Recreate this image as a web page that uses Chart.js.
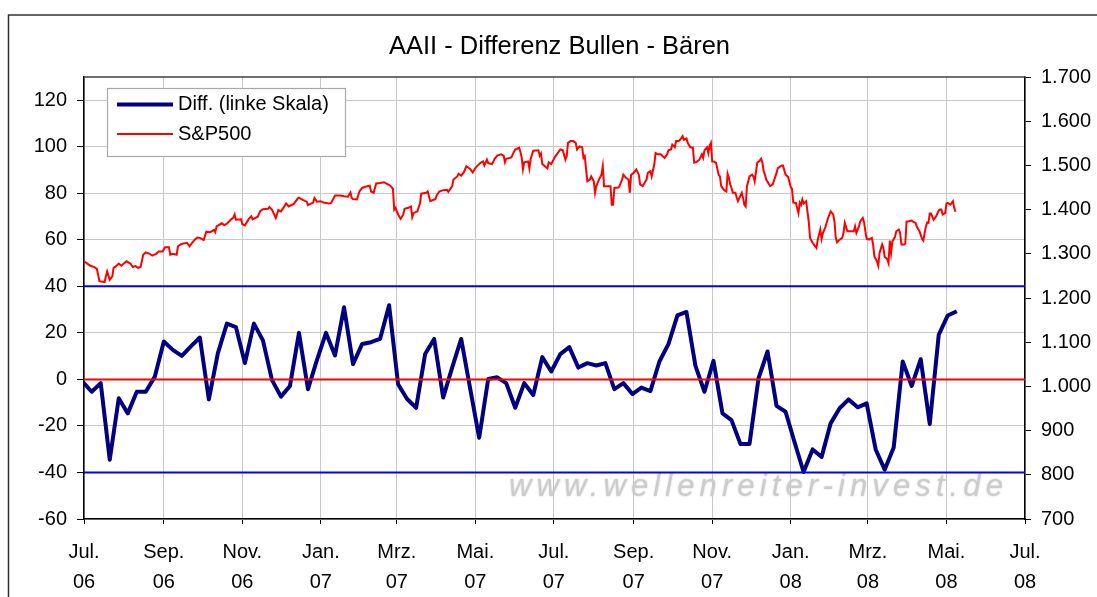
<!DOCTYPE html>
<html>
<head>
<meta charset="utf-8">
<title>AAII - Differenz Bullen - Bären</title>
<script src="https://cdn.jsdelivr.net/npm/chart.js@4.4.0/dist/chart.umd.min.js"></script>
<style>
  html, body { margin: 0; padding: 0; background: #fff; }
  #chart-container { position: relative; width: 1097px; height: 597px; }
</style>
</head>
<body>
<div id="chart-container"><canvas id="chart" width="1097" height="597"></canvas></div>
<script>
// AAII sentiment: bulls minus bears, weekly readings (left scale)
const diffFirstDate = '2006-06-30';
const diffValues = [
  -1, -5.3, -1.6, -34.5, -8.1, -14.6, -5.3, -5.3, 1.2, 16.3,
  12.7, 10.1, 14.2, 18, -8.6, 11.3, 24, 22.5, 7, 24,
  16.8, -0.2, -7.4, -2.8, 20, -4.2, 8.4, 20, 10.3, 31,
  6.6, 15.2, 16, 17.4, 31.9, -2.1, -8.4, -12.2, 10.9, 17.4,
  -7.8, 5.1, 17.4, -4, -25.1, 0.2, 0.9, -1.6, -12.2, -1.6,
  -6.7, 9.6, 3.4, 10.9, 13.9, 5.1, 7, 6, 7, -4.2,
  -1.6, -6.3, -3.5, -5, 7.7, 15.2, 27.5, 29, 5.8, -5.3,
  8, -14.6, -17.5, -27.8, -27.8, 0.5, 12, -11.4, -13.9, -27,
  -39.8, -30.1, -33.3, -18.9, -12.4, -8.6, -12, -10.3, -30.1, -38.8,
  -29.3, 7.7, -2.8, 8.7, -19.2, 19.2, 27.5, 29.3
];

// S&P 500 closes (right scale); day = days after 2006-07-01
const spxDay = [
  0, 2, 5, 8, 10, 12, 16, 17, 18, 20, 22, 23, 25, 27, 29, 31, 33, 36, 38, 40,
  42, 44, 46, 48, 51, 53, 56, 58, 61, 63, 66, 67, 69, 72, 73, 75, 77, 80, 82, 84,
  86, 88, 90, 93, 95, 98, 101, 102, 103, 107, 109, 111, 114, 116, 117, 118, 122, 123, 125, 128,
  130, 131, 135, 137, 139, 143, 144, 146, 149, 151, 153, 156, 157, 159, 163, 166, 167, 170, 173, 174,
  178, 179, 181, 184, 186, 190, 192, 195, 199, 202, 205, 207, 208, 209, 212, 214, 216, 220, 222, 223,
  225, 227, 230, 233, 235, 238, 240, 241, 242, 244, 246, 248, 249, 252, 254, 255, 256, 259, 261, 262,
  266, 267, 269, 273, 274, 276, 279, 282, 283, 286, 287, 290, 291, 293, 295, 297, 300, 302, 304, 306,
  308, 310, 311, 313, 314, 317, 319, 321, 324, 326, 327, 328, 332, 334, 335, 338, 339, 340, 341, 342,
  345, 346, 347, 349, 353, 354, 355, 356, 360, 361, 363, 366, 367, 370, 372, 374, 375, 376, 378, 380,
  382, 383, 385, 387, 388, 389, 391, 393, 394, 396, 397, 398, 400, 402, 403, 404, 406, 409, 410, 411,
  412, 415, 416, 418, 419, 421, 423, 424, 425, 427, 429, 431, 432, 434, 437, 438, 440, 441, 443, 444,
  446, 448, 451, 453, 454, 456, 457, 459, 460, 462, 463, 465, 466, 468, 469, 471, 473, 474, 476, 478,
  480, 481, 482, 484, 485, 486, 487, 488, 489, 491, 493, 494, 495, 497, 499, 500, 501, 502, 503, 504,
  506, 507, 508, 510, 511, 512, 513, 514, 515, 517, 519, 520, 521, 523, 525, 526, 527, 528, 529, 530,
  533, 535, 538, 539, 542, 543, 545, 547, 549, 550, 551, 553, 555, 556, 557, 558, 559, 561, 563, 564,
  566, 569, 570, 572, 573, 574, 576, 578, 580, 582, 583, 584, 585, 587, 589, 590, 591, 593, 595, 598,
  599, 600, 602, 603, 605, 606, 607, 608, 610, 612, 613, 614, 616, 617, 618, 620, 621, 622, 624, 625,
  626, 627, 628, 630, 631, 633, 634, 635, 637, 638, 639, 640, 643, 644, 646, 647, 649, 651, 652, 654,
  655, 656, 657, 658, 660, 662, 664, 665, 666, 667, 669, 670, 671, 673, 674, 675, 676, 677
];
const spxClose = [
  1283, 1279, 1273, 1270, 1266, 1238, 1236, 1249, 1260, 1241, 1249, 1268, 1272, 1278, 1273, 1278, 1283, 1278, 1270, 1272,
  1268, 1270, 1298, 1303, 1300, 1296, 1300, 1305, 1305, 1315, 1315, 1298, 1300, 1298, 1317, 1321, 1323, 1325, 1317, 1325,
  1332, 1337, 1336, 1331, 1350, 1349, 1354, 1349, 1362, 1369, 1365, 1368, 1377, 1382, 1389, 1377, 1378, 1367, 1364, 1379,
  1385, 1378, 1384, 1397, 1401, 1402, 1406, 1400, 1381, 1399, 1396, 1409, 1414, 1407, 1413, 1425, 1427, 1422, 1418, 1410,
  1416, 1426, 1418, 1419, 1416, 1414, 1415, 1432, 1432, 1430, 1429, 1439, 1426, 1424, 1423, 1441, 1449, 1453, 1454, 1441,
  1438, 1459, 1460, 1462, 1459, 1454, 1447, 1400, 1404, 1389, 1379, 1389, 1402, 1404, 1407, 1383, 1392, 1396, 1414, 1436,
  1438, 1441, 1419, 1424, 1432, 1441, 1444, 1445, 1440, 1453, 1468, 1475, 1481, 1477, 1484, 1498, 1492, 1484, 1494, 1500,
  1506, 1509, 1500, 1513, 1505, 1503, 1515, 1522, 1525, 1522, 1507, 1515, 1518, 1531, 1536, 1540, 1531, 1518, 1491, 1507,
  1509, 1493, 1515, 1533, 1534, 1522, 1527, 1503, 1493, 1507, 1503, 1520, 1524, 1536, 1534, 1513, 1521, 1551, 1555, 1555,
  1551, 1536, 1543, 1541, 1517, 1521, 1464, 1468, 1475, 1464, 1438, 1453, 1468, 1479, 1498, 1453, 1453, 1453, 1411, 1411,
  1449, 1450, 1453, 1468, 1479, 1472, 1468, 1438, 1479, 1483, 1491, 1479, 1457, 1453, 1468, 1483, 1487, 1475, 1502, 1528,
  1525, 1525, 1517, 1525, 1534, 1536, 1547, 1541, 1555, 1555, 1558, 1566, 1558, 1561, 1551, 1541, 1540, 1506, 1508, 1513,
  1525, 1517, 1534, 1541, 1528, 1545, 1551, 1509, 1509, 1506, 1479, 1475, 1453, 1445, 1441, 1481, 1472, 1457, 1449, 1438,
  1438, 1428, 1419, 1432, 1438, 1426, 1411, 1407, 1453, 1475, 1479, 1475, 1464, 1506, 1511, 1515, 1506, 1487, 1479, 1468,
  1453, 1457, 1483, 1494, 1500, 1500, 1479, 1474, 1451, 1447, 1416, 1415, 1392, 1416, 1411, 1423, 1414, 1419, 1373, 1336,
  1325, 1313, 1332, 1355, 1334, 1347, 1361, 1381, 1396, 1389, 1373, 1336, 1326, 1332, 1336, 1347, 1370, 1351, 1351, 1351,
  1362, 1347, 1362, 1373, 1381, 1371, 1351, 1334, 1332, 1336, 1321, 1294, 1283, 1273, 1302, 1321, 1313, 1293, 1288, 1279,
  1330, 1302, 1328, 1338, 1351, 1355, 1347, 1321, 1321, 1323, 1373, 1373, 1375, 1373, 1370, 1361, 1351, 1334, 1330, 1362,
  1371, 1370, 1391, 1391, 1377, 1385, 1398, 1400, 1400, 1389, 1392, 1414, 1415, 1411, 1415, 1419, 1404, 1395
];

// reference levels on the left scale
const zeroLevel = 0;
const bandLevels = [40, -40];

// axes
const leftTicks = [-60, -40, -20, 0, 20, 40, 60, 80, 100, 120];
const leftRange = [-60, 130];
const rightRange = [700, 1700];
const xRange = ['2006-07-01', '2008-07-01'];
const xTickDates = ['2006-07-01', '2006-09-01', '2006-11-01', '2007-01-01', '2007-03-01', '2007-05-01',
  '2007-07-01', '2007-09-01', '2007-11-01', '2008-01-01', '2008-03-01', '2008-05-01', '2008-07-01'];
const xTickMonths = ['Jul.', 'Sep.', 'Nov.', 'Jan.', 'Mrz.', 'Mai.', 'Jul.', 'Sep.', 'Nov.', 'Jan.', 'Mrz.', 'Mai.', 'Jul.'];
const xTickYears = ['06', '06', '06', '07', '07', '07', '07', '07', '07', '08', '08', '08', '08'];

const TITLE = 'AAII - Differenz Bullen - Bären';
const WATERMARK = 'www.wellenreiter-invest.de';

const FONT = '"Liberation Sans", Arial, Helvetica, sans-serif';
const DAY0 = Date.UTC(2006, 6, 1);
function dayOf(iso) {
  const [y, m, d] = iso.split('-').map(Number);
  return Math.round((Date.UTC(y, m - 1, d) - DAY0) / 86400000);
}
function germanThousands(v) {
  if (v < 1000) return String(v);
  return Math.floor(v / 1000) + '.' + String(v % 1000).padStart(3, '0');
}

const diffStart = dayOf(diffFirstDate);
const diffData = diffValues.map((v, i) => ({ x: diffStart + 7 * i, y: v }));
const spxData = spxDay.map((d, i) => ({ x: d, y: spxClose[i] }));
const xMin = dayOf(xRange[0]), xMax = dayOf(xRange[1]);
const levelLine = (lvl) => [{ x: xMin, y: lvl }, { x: xMax, y: lvl }];

// outer frame + title, plot top edge and watermark behind the lines
const framePlugin = {
  id: 'frame',
  beforeDraw(chart) {
    const ctx = chart.ctx;
    ctx.save();
    ctx.fillStyle = '#fff';
    ctx.fillRect(0, 0, chart.width, chart.height);
    ctx.strokeStyle = '#333';
    ctx.lineWidth = 1.5;
    ctx.beginPath();
    ctx.moveTo(8.5, chart.height + 2);
    ctx.lineTo(8.5, 15);
    ctx.lineTo(chart.width + 2, 15);
    ctx.stroke();
    // title (centred on the frame, which runs past the right edge)
    ctx.font = '25.5px ' + FONT;
    ctx.fillStyle = '#000';
    ctx.textAlign = 'center';
    ctx.textBaseline = 'middle';
    ctx.fillText(TITLE, 559.5, 47);
    ctx.restore();
  },
  beforeDatasetsDraw(chart) {
    const { ctx, chartArea } = chart;
    ctx.save();
    // watermark
    ctx.font = 'italic 31px ' + FONT;
    ctx.fillStyle = '#cccccc';
    ctx.textBaseline = 'alphabetic';
    const w = ctx.measureText(WATERMARK).width;
    const spacing = (494 - w) / (WATERMARK.length - 1);
    ctx.letterSpacing = spacing.toFixed(2) + 'px';
    ctx.shadowColor = 'rgba(170,170,170,0.6)';
    ctx.shadowBlur = 2;
    ctx.fillText(WATERMARK, 509, 496);
    ctx.restore();
    // top edge of plot area
    ctx.save();
    ctx.strokeStyle = '#404040';
    ctx.lineWidth = 1.5;
    ctx.beginPath();
    ctx.moveTo(chartArea.left, chartArea.top);
    ctx.lineTo(chartArea.right, chartArea.top);
    ctx.stroke();
    ctx.restore();
  }
};

// legend box inside the plot area
const legendPlugin = {
  id: 'boxLegend',
  afterDraw(chart) {
    const ctx = chart.ctx;
    const items = chart.data.datasets.filter(d => d.inLegend);
    ctx.save();
    ctx.fillStyle = '#fff';
    ctx.fillRect(107, 88, 238, 68);
    ctx.strokeStyle = '#a8a8a8';
    ctx.lineWidth = 1.2;
    ctx.strokeRect(107.5, 88.5, 238, 68);
    ctx.font = '20px ' + FONT;
    ctx.textBaseline = 'middle';
    ctx.fillStyle = '#000';
    items.forEach((ds, i) => {
      const y = 104.5 + i * 29.5;
      ctx.strokeStyle = ds.borderColor;
      ctx.lineWidth = ds.borderWidth;
      ctx.beginPath();
      ctx.moveTo(117, y);
      ctx.lineTo(173, y);
      ctx.stroke();
      ctx.fillText(ds.label, 178, y);
    });
    ctx.restore();
  }
};

Chart.defaults.font.family = FONT;
Chart.defaults.color = '#000';

const ctx = document.getElementById('chart').getContext('2d');
new Chart(ctx, {
  type: 'line',
  data: {
    datasets: [
      { label: 'Null', data: levelLine(zeroLevel), yAxisID: 'y', borderColor: '#ff0000', borderWidth: 2, pointRadius: 0 },
      { label: 'Band oben', data: levelLine(bandLevels[0]), yAxisID: 'y', borderColor: '#0000ff', borderWidth: 2, pointRadius: 0 },
      { label: 'Band unten', data: levelLine(bandLevels[1]), yAxisID: 'y', borderColor: '#0000ff', borderWidth: 2, pointRadius: 0 },
      { label: 'Diff. (linke Skala)', data: diffData, yAxisID: 'y', borderColor: '#000080', borderWidth: 4,
        pointRadius: 0, tension: 0, inLegend: true, borderJoinStyle: 'round' },
      { label: 'S&P500', data: spxData, yAxisID: 'y2', borderColor: '#ff0000', borderWidth: 2,
        pointRadius: 0, tension: 0, inLegend: true }
    ]
  },
  options: {
    responsive: false,
    animation: false,
    events: [],
    layout: { padding: { top: 77 } },
    plugins: {
      legend: { display: false },
      tooltip: { enabled: false },
      title: { display: false }
    },
    scales: {
      x: {
        type: 'linear',
        min: xMin,
        max: xMax,
        afterBuildTicks: (scale) => { scale.ticks = xTickDates.map(d => ({ value: dayOf(d) })); },
        afterFit: (scale) => { scale.height = 78; },
        ticks: {
          autoSkip: false,
          maxRotation: 0,
          padding: 13,
          font: { size: 20, lineHeight: 1.5 },
          callback: (value, index) => [xTickMonths[index], xTickYears[index]]
        },
        grid: { color: '#c8c8c8', lineWidth: 1, tickColor: '#000', tickLength: 5 },
        border: { color: '#000', width: 1.5 }
      },
      y: {
        type: 'linear',
        position: 'left',
        min: leftRange[0],
        max: leftRange[1],
        afterBuildTicks: (scale) => { scale.ticks = leftTicks.map(v => ({ value: v })); },
        afterFit: (scale) => { scale.width = 84; },
        ticks: { padding: 10, font: { size: 20 } },
        grid: { color: '#c8c8c8', lineWidth: 1, tickColor: '#000', tickLength: 7 },
        border: { color: '#000', width: 1.5 }
      },
      y2: {
        type: 'linear',
        position: 'right',
        min: rightRange[0],
        max: rightRange[1],
        afterFit: (scale) => { scale.width = 72; },
        ticks: { stepSize: 100, padding: 10, font: { size: 20 }, callback: (v) => germanThousands(v) },
        grid: { drawOnChartArea: false, tickColor: '#000', tickLength: 6 },
        border: { color: '#000', width: 1.5 }
      }
    }
  },
  plugins: [framePlugin, legendPlugin]
});
</script>
</body>
</html>
